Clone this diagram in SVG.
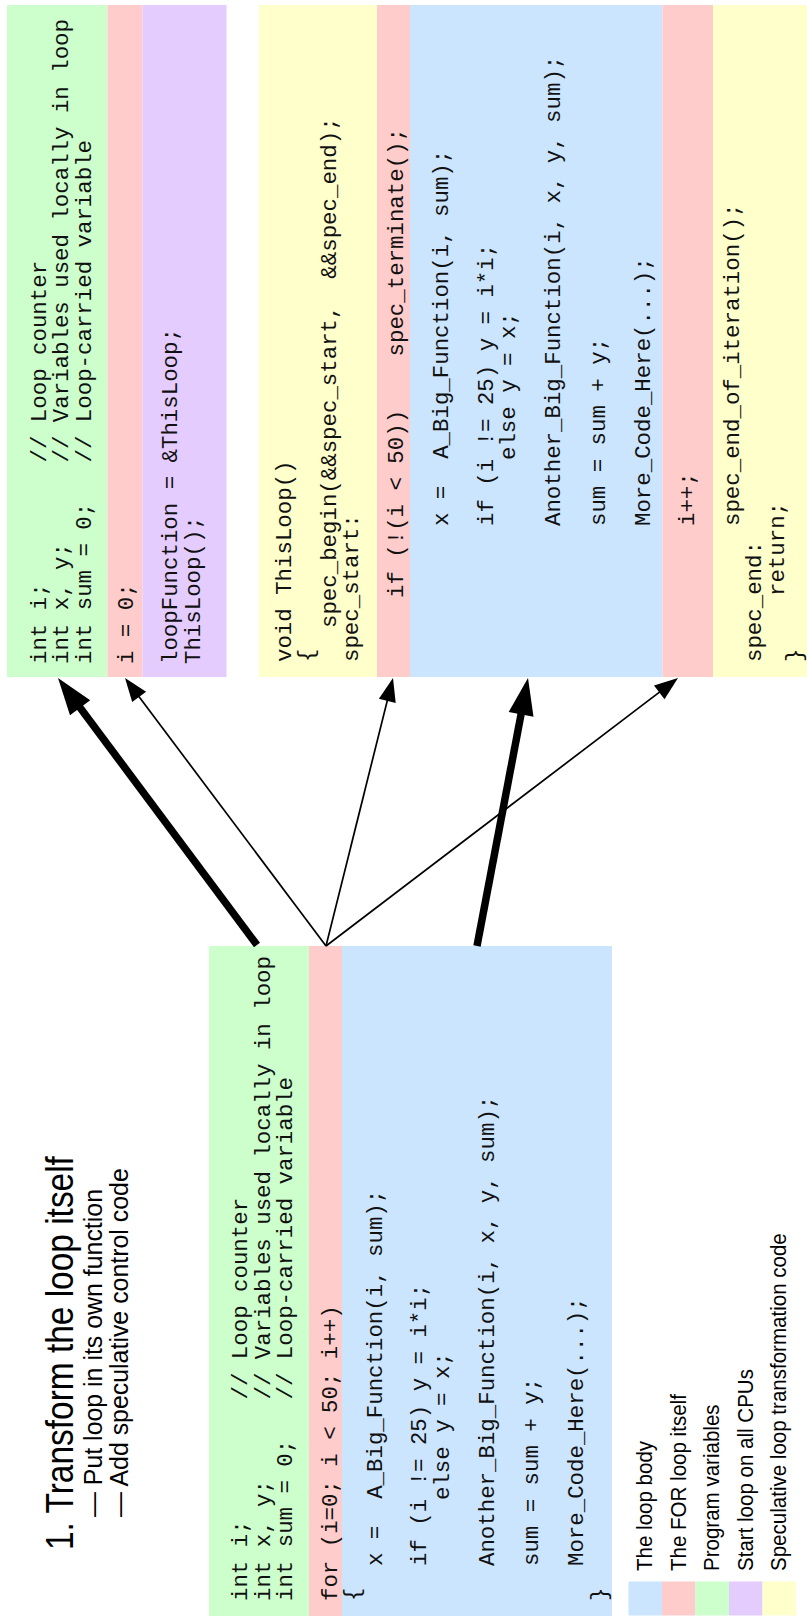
<svg xmlns="http://www.w3.org/2000/svg" width="807" height="1621" viewBox="0 0 807 1621">
<style>
.c{font-family:"Liberation Mono","Courier New",monospace;font-size:22.4px;fill:#111;white-space:pre}
.s{font-family:"Liberation Sans",Arial,sans-serif;fill:#000;white-space:pre}
.g{fill:#ccffcc}.r{fill:#ffcccc}.p{fill:#e5ccff}.b{fill:#cce5ff}.y{fill:#ffffcc}
.thin{stroke:#000;stroke-width:1.7;fill:none}
.thick{stroke:#000;stroke-width:7.5;fill:none}
.head{fill:#000;stroke:none}
</style>
<rect width="807" height="1621" fill="#fff"/>

<g id="title">
<text class="s" font-size="38" transform="translate(73,1550) rotate(-90) scale(0.88,1)">1. Transform the loop itself</text>
<text class="s" font-size="26.5" transform="translate(102,1517) rotate(-90) scale(0.94,1)">— Put loop in its own function</text>
<text class="s" font-size="26.5" transform="translate(127.5,1517) rotate(-90) scale(0.94,1)">— Add speculative control code</text>
</g>

<g id="node-setup">
<rect class="g" x="7" y="5" width="100.5" height="672"/>
<rect class="r" x="107.5" y="5" width="35" height="672"/>
<rect class="p" x="142.5" y="5" width="84" height="672"/>
<text class="c" transform="translate(45.5,664) rotate(-90)">int i;         // Loop counter</text>
<text class="c" transform="translate(68,664) rotate(-90)">int x, y;      // Variables used locally in loop</text>
<text class="c" transform="translate(90.5,664) rotate(-90)">int sum = 0;   // Loop-carried variable</text>
<text class="c" transform="translate(133,664) rotate(-90)">i = 0;</text>
<text class="c" transform="translate(177,664) rotate(-90)">loopFunction = &amp;ThisLoop;</text>
<text class="c" transform="translate(199.5,664) rotate(-90)">ThisLoop();</text>
</g>

<g id="node-thisloop">
<rect class="y" x="259" y="5" width="118" height="672"/>
<rect class="r" x="377" y="5" width="33" height="672"/>
<rect class="b" x="410" y="5" width="252.5" height="672"/>
<rect class="r" x="662.5" y="5" width="50.5" height="672"/>
<rect class="y" x="713" y="5" width="94" height="672"/>
<text class="c" transform="translate(291,662) rotate(-90)">void ThisLoop()</text>
<text class="c" transform="translate(313,662) rotate(-90)">{</text>
<text class="c" transform="translate(336,628) rotate(-90)">spec_begin(&amp;&amp;spec_start,  &amp;&amp;spec_end);</text>
<text class="c" transform="translate(358,662) rotate(-90)">spec_start:</text>
<text class="c" transform="translate(403,598) rotate(-90)">if (!(i &lt; 50)) <tspan dx="40">spec_terminate();</tspan></text>
<text class="c" transform="translate(448,526) rotate(-90)">x =  A_Big_Function(i, sum);</text>
<text class="c" transform="translate(493,526) rotate(-90)">if (i != 25) y = i*i;</text>
<text class="c" transform="translate(515,460) rotate(-90)">else y = x;</text>
<text class="c" transform="translate(560,526) rotate(-90)">Another_Big_Function(i, x, y, sum);</text>
<text class="c" transform="translate(605,526) rotate(-90)">sum = sum + y;</text>
<text class="c" transform="translate(650,526) rotate(-90)">More_Code_Here(...);</text>
<text class="c" transform="translate(694,526) rotate(-90)">i++;</text>
<text class="c" transform="translate(739,526) rotate(-90)">spec_end_of_iteration();</text>
<text class="c" transform="translate(761,662) rotate(-90)">spec_end:</text>
<text class="c" transform="translate(784,596) rotate(-90)">return;</text>
<text class="c" transform="translate(801,662) rotate(-90)">}</text>
</g>

<g id="node-original">
<rect class="g" x="209" y="946" width="100" height="670"/>
<rect class="r" x="309" y="946" width="33" height="670"/>
<rect class="b" x="342" y="946" width="270" height="670"/>
<text class="c" transform="translate(247,1601) rotate(-90)">int i;         // Loop counter</text>
<text class="c" transform="translate(269.5,1601) rotate(-90)">int x, y;      // Variables used locally in loop</text>
<text class="c" transform="translate(292,1601) rotate(-90)">int sum = 0;   // Loop-carried variable</text>
<text class="c" transform="translate(336.5,1601) rotate(-90)">for (i=0; i &lt; 50; i++)</text>
<text class="c" transform="translate(359,1601) rotate(-90)">{</text>
<text class="c" transform="translate(381.5,1566) rotate(-90)">x =  A_Big_Function(i, sum);</text>
<text class="c" transform="translate(426,1566) rotate(-90)">if (i != 25) y = i*i;</text>
<text class="c" transform="translate(448.5,1500) rotate(-90)">else y = x;</text>
<text class="c" transform="translate(493.5,1566) rotate(-90)">Another_Big_Function(i, x, y, sum);</text>
<text class="c" transform="translate(538,1566) rotate(-90)">sum = sum + y;</text>
<text class="c" transform="translate(583,1566) rotate(-90)">More_Code_Here(...);</text>
<text class="c" transform="translate(605.5,1601) rotate(-90)">}</text>
</g>

<g id="legend">
<rect class="b" x="628.5" y="1581.5" width="33.5" height="34"/>
<rect class="r" x="662" y="1581.5" width="33.5" height="34"/>
<rect class="g" x="695.5" y="1581.5" width="33.5" height="34"/>
<rect class="p" x="729" y="1581.5" width="33.5" height="34"/>
<rect class="y" x="762.5" y="1581.5" width="33.5" height="34"/>
<text class="s" font-size="22" transform="translate(652,1571) rotate(-90) scale(0.934,1)">The loop body</text>
<text class="s" font-size="22" transform="translate(685.5,1571) rotate(-90) scale(0.934,1)">The FOR loop itself</text>
<text class="s" font-size="22" transform="translate(719,1571) rotate(-90) scale(0.934,1)">Program variables</text>
<text class="s" font-size="22" transform="translate(752.5,1571) rotate(-90) scale(0.934,1)">Start loop on all CPUs</text>
<text class="s" font-size="22" transform="translate(786,1571) rotate(-90) scale(0.934,1)">Speculative loop transformation code</text>
</g>

<g id="connectors">
<path class="thick" d="M257,945 L77.7,704.5"/>
<polygon class="head" points="58,678 90.2,700.2 70,715.2"/>
<path class="thin" d="M326,946 L137,694"/>
<polygon class="head" points="125,678 146.1,691.7 132.2,702.1"/>
<path class="thin" d="M326,946 L388.1,697.4"/>
<polygon class="head" points="393,678 395.7,703 378.9,698.8"/>
<path class="thin" d="M326,946 L662.1,690.1"/>
<polygon class="head" points="678,678 664.5,699.2 654,685.4"/>
<path class="thick" d="M477,946 L521.8,710.4"/>
<polygon class="head" points="528,678 533.5,716.7 508.7,712"/>
</g>
</svg>
